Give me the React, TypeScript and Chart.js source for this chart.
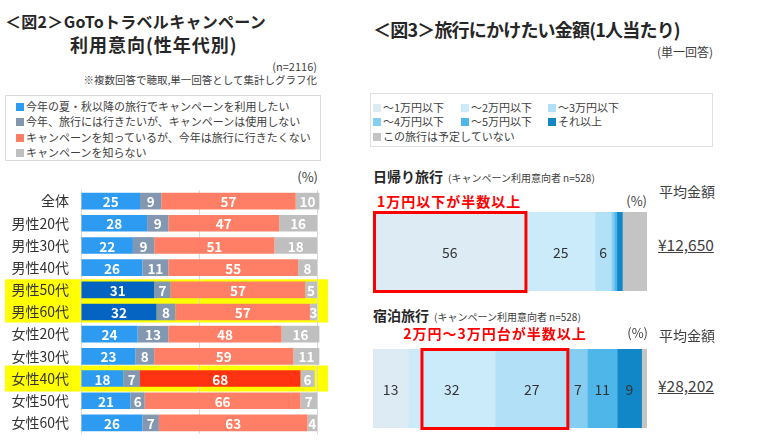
import React, { useEffect, useRef } from "react";
import { Chart, registerables } from "chart.js";

Chart.register(...registerables);

const FONT = "'Noto Sans CJK JP', 'Noto Sans', sans-serif";

// ---- 図2 data ----
const categories = ["全体", "男性20代", "男性30代", "男性40代", "男性50代", "男性60代", "女性20代", "女性30代", "女性40代", "女性50代", "女性60代"];
const seriesNames = [
  "今年の夏・秋以降の旅行でキャンペーンを利用したい",
  "今年、旅行には行きたいが、キャンペーンは使用しない",
  "キャンペーンを知っているが、今年は旅行に行きたくない",
  "キャンペーンを知らない",
];
const useCampaign = [25, 28, 22, 26, 31, 32, 24, 23, 18, 21, 26];
const travelNoCampaign = [9, 9, 9, 11, 7, 8, 13, 8, 7, 6, 7];
const noTravel = [57, 47, 51, 55, 57, 57, 48, 59, 68, 66, 63];
const unaware = [10, 16, 18, 8, 5, 3, 16, 11, 6, 7, 4];
const highlightGroups = [
  { rows: [4, 5], half: 10.5 },
  { rows: [8], half: 13 },
];
const darkBlueRows = [4, 5];
const redRows = [8];

// ---- 図3 data ----
const amountLabels = ["～1万円以下", "～2万円以下", "～3万円以下", "～4万円以下", "～5万円以下", "それ以上", "この旅行は予定していない"];
const dayTrip = [56, 25, 6, 1, 1, 2, 9];
const overnight = [13, 32, 27, 7, 11, 9, 2];
const dayTripBox = [0, 56];
const overnightBox = [17.5, 72];

const leftColors = ["#2E9BF3", "#8497B0", "#FF7F66", "#BFBFBF"];
const darkBlue = "#0563C1";
const brightRed = "#FF3311";
const amountColors = ["#DDEBF5", "#CCEBFA", "#B2E0F6", "#86CEF1", "#4FB6EA", "#1287C7", "#C4C4C4"];

const labelPlugin = {
  id: "segLabels",
  afterDatasetsDraw(chart: any) {
    const o = chart.options.plugins.segLabels || {};
    const ctx = chart.ctx;
    ctx.save();
    ctx.textAlign = "center";
    ctx.textBaseline = "middle";
    chart.data.datasets.forEach((ds: any, di: number) => {
      if (o.skip && o.skip.includes(di)) return;
      const meta = chart.getDatasetMeta(di);
      meta.data.forEach((el: any, i: number) => {
        const v = ds.data[i];
        if (v < (o.min || 0)) return;
        ctx.font = o.font;
        ctx.fillStyle = o.color;
        ctx.fillText(String(v), (el.x + el.base) / 2, el.y + 1);
      });
    });
    ctx.restore();
  },
};

const highlightPlugin = {
  id: "rowHighlight",
  beforeDraw(chart: any) {
    const o = chart.options.plugins.rowHighlight;
    if (!o) return;
    const ctx = chart.ctx;
    const ys = chart.scales.y;
    ctx.save();
    ctx.fillStyle = "#FFFF00";
    o.groups.forEach((g: any) => {
      const a = ys.getPixelForValue(g.rows[0]) - g.half;
      const b = ys.getPixelForValue(g.rows[g.rows.length - 1]) + g.half;
      ctx.fillRect(5, a, 323, b - a);
    });
    ctx.restore();
  },
};

const boxPlugin = {
  id: "redBox",
  afterDatasetsDraw(chart: any) {
    const o = chart.options.plugins.redBox;
    if (!o) return;
    const ctx = chart.ctx;
    const xs = chart.scales.x;
    const a = chart.chartArea;
    const x1 = xs.getPixelForValue(o.range[0]);
    const x2 = xs.getPixelForValue(o.range[1]);
    ctx.save();
    ctx.strokeStyle = "#FF0000";
    ctx.lineWidth = 3;
    ctx.strokeRect(x1 + 1.5, a.top + 0.5, x2 - x1 - 2, a.bottom - a.top);
    ctx.restore();
  },
};

function LeftChart() {
  const ref = useRef<HTMLCanvasElement>(null);
  useEffect(() => {
    const colorsFor = (base: string, rows: number[], alt: string) => categories.map((_, i) => (rows.includes(i) ? alt : base));
    const chart = new Chart(ref.current!, {
      type: "bar",
      data: {
        labels: categories,
        datasets: [
          { label: seriesNames[0], data: useCampaign, backgroundColor: colorsFor(leftColors[0], darkBlueRows, darkBlue) },
          { label: seriesNames[1], data: travelNoCampaign, backgroundColor: leftColors[1] },
          { label: seriesNames[2], data: noTravel, backgroundColor: colorsFor(leftColors[2], redRows, brightRed) },
          { label: seriesNames[3], data: unaware, backgroundColor: leftColors[3] },
        ],
      },
      options: {
        indexAxis: "y",
        responsive: false,
        animation: false,
        devicePixelRatio: 1,
        layout: { padding: { left: 0, right: 13, top: 0, bottom: 0 } },
        datasets: { bar: { categoryPercentage: 1, barPercentage: 0.75, clip: false } },
        plugins: {
          legend: { display: false },
          tooltip: { enabled: false },
          segLabels: { font: `bold 13.5px ${FONT}`, color: "#FFFFFF", min: 0 },
          rowHighlight: { groups: highlightGroups },
        } as any,
        scales: {
          x: {
            stacked: true,
            min: 0,
            max: 100,
            ticks: { display: false, stepSize: 50 },
            grid: { color: "#D9D9D9", drawTicks: false },
            border: { display: false },
            afterFit: (s: any) => { s.height = 0; },
          },
          y: {
            stacked: true,
            ticks: { color: "#333333", font: { size: 14, family: FONT }, padding: 0 },
            grid: { display: false, drawTicks: true, tickLength: 12 },
            border: { display: false },
            afterFit: (s: any) => { s.width = 81; s.paddingTop = 0; s.paddingBottom = 0; },
          },
        },
      },
      plugins: [labelPlugin, highlightPlugin],
    });
    return () => chart.destroy();
  }, []);
  return <canvas ref={ref} width={330} height={244} style={{ position: "absolute", left: 0, top: 190 }} />;
}

function AmountChart({ values, box, top }: { values: number[]; box: number[]; top: number }) {
  const ref = useRef<HTMLCanvasElement>(null);
  useEffect(() => {
    const total = values.reduce((a, b) => a + b, 0);
    const chart = new Chart(ref.current!, {
      type: "bar",
      data: {
        labels: [""],
        datasets: amountLabels.map((l, i) => ({ label: l, data: [values[i]], backgroundColor: amountColors[i] })),
      },
      options: {
        indexAxis: "y",
        responsive: false,
        animation: false,
        devicePixelRatio: 1,
        layout: { padding: { left: 5, right: 11, top: 7, bottom: 6 } },
        datasets: { bar: { categoryPercentage: 1, barPercentage: 1 } },
        plugins: {
          legend: { display: false },
          tooltip: { enabled: false },
          segLabels: { font: `14px ${FONT}`, color: "#333333", min: 5, skip: [6] },
          redBox: { range: box },
        } as any,
        scales: {
          x: { stacked: true, min: 0, max: total, display: false },
          y: { stacked: true, display: false },
        },
      },
      plugins: [labelPlugin, boxPlugin],
    });
    return () => chart.destroy();
  }, []);
  return <canvas ref={ref} width={290} height={92} style={{ position: "absolute", left: 368, top }} />;
}

function T({ x, y, size, children, bold, color, align, style }: any) {
  const base: any = {
    position: "absolute",
    top: y - size * 0.75,
    fontSize: size,
    lineHeight: `${size * 1.5}px`,
    fontWeight: bold ? 700 : 400,
    color: color || "#404040",
    whiteSpace: "nowrap",
    fontFamily: FONT,
  };
  if (align === "right") base.right = 760 - x;
  else if (align === "center") { base.left = x - 200; base.width = 400; base.textAlign = "center"; }
  else base.left = x;
  return <div style={{ ...base, ...style }}>{children}</div>;
}

function Sq({ c }: { c: string }) {
  return <span style={{ display: "inline-block", width: 8, height: 8, background: c, marginRight: 2, verticalAlign: "middle", position: "relative", top: -1 }} />;
}

export default function App() {
  useEffect(() => {
    document.body.style.margin = "0";
  }, []);
  const leftLegendY = [106, 121, 137, 152];
  const rightLegendPos = [
    [373, 107], [461, 107], [548, 107],
    [373, 121], [461, 121], [548, 121],
    [373, 136],
  ];
  return (
    <div style={{ position: "fixed", left: 0, top: 0, width: 760, height: 445, background: "#fff", overflow: "hidden" }}>
      {/* 図2 */}
      <T x={5} y={21} size={16} bold color="#262626" style={{ letterSpacing: 0.3 }}>＜図2＞GoToトラベルキャンペーン</T>
      <T x={70} y={44} size={18} bold color="#262626" style={{ letterSpacing: 1 }}>利用意向(性年代別)</T>
      <T x={317} y={66} size={11} align="right">(n=2116)</T>
      <T x={317} y={80} size={10.5} align="right">※複数回答で聴取,単一回答として集計しグラフ化</T>
      <div style={{ position: "absolute", left: 5, top: 95, width: 316, height: 66, border: "1px solid #D9D9D9", boxSizing: "border-box" }} />
      {seriesNames.map((n, i) => (
        <T key={n} x={16} y={leftLegendY[i]} size={11}><Sq c={leftColors[i]} />{n}</T>
      ))}
      <T x={318} y={177} size={13} align="right">(%)</T>
      <LeftChart />

      {/* 図3 */}
      <T x={373} y={29} size={18} bold color="#262626" style={{ letterSpacing: -0.8 }}>＜図3＞旅行にかけたい金額(1人当たり)</T>
      <T x={713} y={52} size={12} align="right">(単一回答)</T>
      <div style={{ position: "absolute", left: 370, top: 93, width: 343, height: 54, border: "1px solid #E0E0E0", boxSizing: "border-box" }} />
      {amountLabels.map((l, i) => (
        <T key={l} x={rightLegendPos[i][0]} y={rightLegendPos[i][1]} size={11}><Sq c={amountColors[i]} />{l}</T>
      ))}

      <T x={373} y={176} size={14} bold color="#262626">日帰り旅行<span style={{ fontSize: 10, fontWeight: 400, marginLeft: 5, color: "#404040" }}>(キャンペーン利用意向者 n=528)</span></T>
      <T x={377} y={201} size={14} bold color="#FF0000" style={{ letterSpacing: 1 }}>1万円以下が半数以上</T>
      <T x={647} y={201} size={13} align="right">(%)</T>
      <T x={659} y={191} size={14}>平均金額</T>
      <T x={658} y={245} size={15.5} style={{ textDecoration: "underline" }}>¥12,650</T>
      <AmountChart values={dayTrip} box={dayTripBox} top={205} />

      <T x={373} y={315} size={14} bold color="#262626">宿泊旅行<span style={{ fontSize: 10, fontWeight: 400, marginLeft: 5, color: "#404040" }}>(キャンペーン利用意向者 n=528)</span></T>
      <T x={495} y={333} size={14} bold color="#FF0000" align="center" style={{ letterSpacing: 1 }}>2万円～3万円台が半数以上</T>
      <T x={648} y={333} size={13} align="right">(%)</T>
      <T x={659} y={335} size={14}>平均金額</T>
      <T x={658} y={386} size={15.5} style={{ textDecoration: "underline" }}>¥28,202</T>
      <AmountChart values={overnight} box={overnightBox} top={342} />
    </div>
  );
}
